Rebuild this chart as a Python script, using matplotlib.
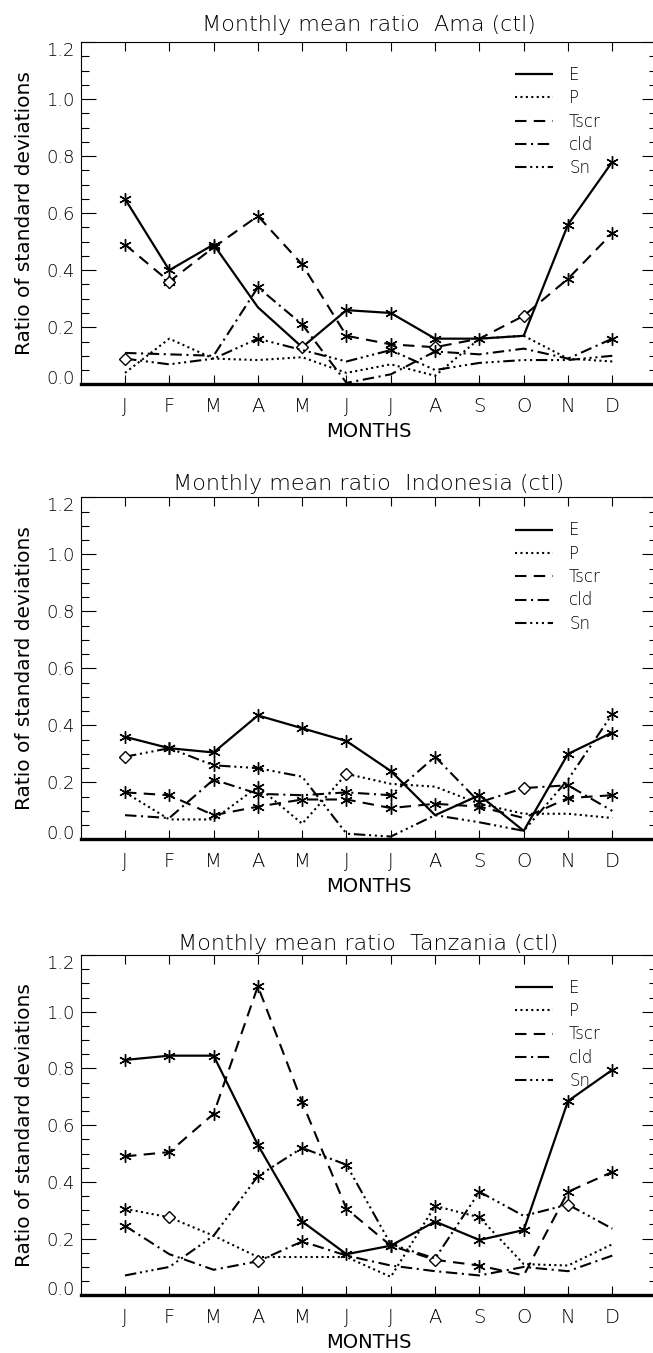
import matplotlib
matplotlib.use("Agg")
import matplotlib.pyplot as plt
import numpy as np

# Monatsachse
months = ['J', 'F', 'M', 'A', 'M', 'J', 'J', 'A', 'S', 'O', 'N', 'D']
series_names = ['E', 'P', 'Tscr', 'cld', 'Sn']

# Ama
ama_E = [0.65, 0.40, 0.49, 0.27, 0.13, 0.26, 0.25, 0.16, 0.16, 0.17, 0.56, 0.78]
ama_P = [0.04, 0.16, 0.09, 0.085, 0.095, 0.04, 0.07, 0.03, 0.16, 0.17, 0.09, 0.08]
ama_Tscr = [0.49, 0.36, 0.48, 0.59, 0.42, 0.17, 0.14, 0.13, 0.16, 0.24, 0.37, 0.53]
ama_cld = [0.11, 0.105, 0.10, 0.34, 0.21, 0.005, 0.035, 0.115, 0.105, 0.125, 0.09, 0.16]
ama_Sn = [0.09, 0.07, 0.09, 0.16, 0.12, 0.08, 0.12, 0.05, 0.075, 0.085, 0.085, 0.10]
# Symbole: * Stern, d Raute, b beides, . keins
ama_marks = ["***.d****.**", "............", "*b*****d.d**", "...**..*...*", "d..*..*....."]

# Indonesia
ind_E = [0.36, 0.32, 0.305, 0.435, 0.39, 0.345, 0.24, 0.085, 0.155, 0.03, 0.30, 0.375]
ind_P = [0.165, 0.07, 0.07, 0.185, 0.055, 0.23, 0.195, 0.185, 0.125, 0.09, 0.09, 0.075]
ind_Tscr = [0.165, 0.155, 0.085, 0.115, 0.14, 0.14, 0.11, 0.125, 0.115, 0.075, 0.145, 0.155]
ind_cld = [0.085, 0.075, 0.21, 0.16, 0.155, 0.165, 0.155, 0.29, 0.13, 0.18, 0.19, 0.10]
ind_Sn = [0.29, 0.32, 0.26, 0.25, 0.22, 0.02, 0.01, 0.085, 0.06, 0.03, 0.21, 0.44]
ind_marks = ["*******.*.**", "...*.d......", "*********.**", "..**.****d*.", "d***.......*"]

# Tanzania
tan_E = [0.83, 0.845, 0.845, 0.53, 0.26, 0.145, 0.175, 0.26, 0.195, 0.23, 0.685, 0.795]
tan_P = [0.305, 0.275, 0.21, 0.135, 0.135, 0.135, 0.065, 0.315, 0.275, 0.11, 0.105, 0.18]
tan_Tscr = [0.49, 0.505, 0.64, 1.09, 0.68, 0.305, 0.175, 0.125, 0.105, 0.07, 0.365, 0.435]
tan_cld = [0.245, 0.145, 0.09, 0.12, 0.19, 0.14, 0.105, 0.085, 0.07, 0.10, 0.085, 0.14]
tan_Sn = [0.07, 0.10, 0.21, 0.42, 0.52, 0.46, 0.18, 0.13, 0.365, 0.28, 0.32, 0.235]
tan_marks = ["************", "*d.....**...", "*******d*.**", "*..d*.......", "...***..*.d."]

panels = [
    ("Ama", [ama_E, ama_P, ama_Tscr, ama_cld, ama_Sn], ama_marks, 42.0, 384.3, 31),
    ("Indonesia", [ind_E, ind_P, ind_Tscr, ind_cld, ind_Sn], ind_marks, 497.4, 839.4, 490),
    ("Tanzania", [tan_E, tan_P, tan_Tscr, tan_cld, tan_Sn], tan_marks, 955.0, 1295.3, 950),
]

# Linienstile wie im IDL-Plot
styles = {
    'E': dict(linestyle='-', lw=1.6),
    'P': dict(dashes=(1.0, 1.6), lw=1.5),
    'Tscr': dict(dashes=(5.5, 3.5), lw=1.5),
    'cld': dict(dashes=(5.5, 2.2, 1.0, 2.2), lw=1.5),
    'Sn': dict(dashes=(5.5, 1.8, 1.0, 1.8, 1.0, 1.8, 1.0, 1.8), lw=1.5),
}

plt.rcParams['font.family'] = ['DejaVu Sans']
plt.rcParams['font.weight'] = 'light'

W, H = 653, 1353
fig = plt.figure(figsize=(W / 100, H / 100), dpi=100)
x = np.arange(1, 13)
star = (6, 2, 0)

for region, data, marks, top, bot, title_y in panels:
    ax = fig.add_axes([80.7 / W, 1 - bot / H, 575.9 / W, (bot - top) / H])
    for name, vals, mk in zip(series_names, data, marks):
        vals = np.array(vals)
        ax.plot(x, vals, color='black', label=name, solid_capstyle='butt',
                dash_capstyle='butt', **styles[name])
        s = np.array([c in '*b' for c in mk])
        d = np.array([c in 'db' for c in mk])
        if s.any():
            ax.plot(x[s], vals[s], ls='none', marker=star, ms=9, mew=1.0,
                    color='black')
        if d.any():
            ax.plot(x[d], vals[d], ls='none', marker='D', ms=6, mew=1.0,
                    mfc='white', mec='black')

    ax.set_xlim(0, 13)
    ax.set_ylim(0, 1.2)
    ax.set_xticks(x)
    ax.set_xticklabels(months, fontsize=14)
    ax.set_yticks(np.arange(0, 1.21, 0.2))
    ylabs = ax.set_yticklabels([f"{v:.1f}" for v in np.arange(0, 1.21, 0.2)], fontsize=13)
    # IDL rueckt die Endbeschriftungen nach innen
    ylabs[0].set_va('baseline')
    ylabs[-1].set_va('top')
    ax.set_yticks(np.arange(0, 1.201, 0.05), minor=True)
    ax.tick_params(axis='y', which='major', direction='in', length=10.5, width=0.8,
                   left=True, right=True, pad=4.5)
    ax.tick_params(axis='y', which='minor', direction='in', length=5.5, width=0.8,
                   left=True, right=True)
    ax.tick_params(axis='x', which='major', direction='in', length=6.5, width=0.8,
                   top=True, bottom=True, pad=9)
    for sp in ['top', 'left', 'right']:
        ax.spines[sp].set_linewidth(0.8)
    ax.spines['bottom'].set_linewidth(2.4)

    ax.set_ylabel("Ratio of standard deviations", fontsize=14.5)
    ax.yaxis.set_label_coords(-0.081, 0.5)
    ax.set_xlabel("MONTHS", fontsize=14)
    ax.xaxis.set_label_coords(0.5, -0.110)

    leg = ax.legend(loc='upper left', bbox_to_anchor=(0.754, 0.93), frameon=False,
                    fontsize=12, handlelength=2.3, handletextpad=0.95,
                    labelspacing=0.32, borderpad=0, borderaxespad=0)

    fig.text(368.6 / W, 1 - title_y / H, f"Monthly mean ratio  {region} (ctl)",
             ha='center', va='baseline', fontsize=16)

fig.savefig("out.png", dpi=100)
